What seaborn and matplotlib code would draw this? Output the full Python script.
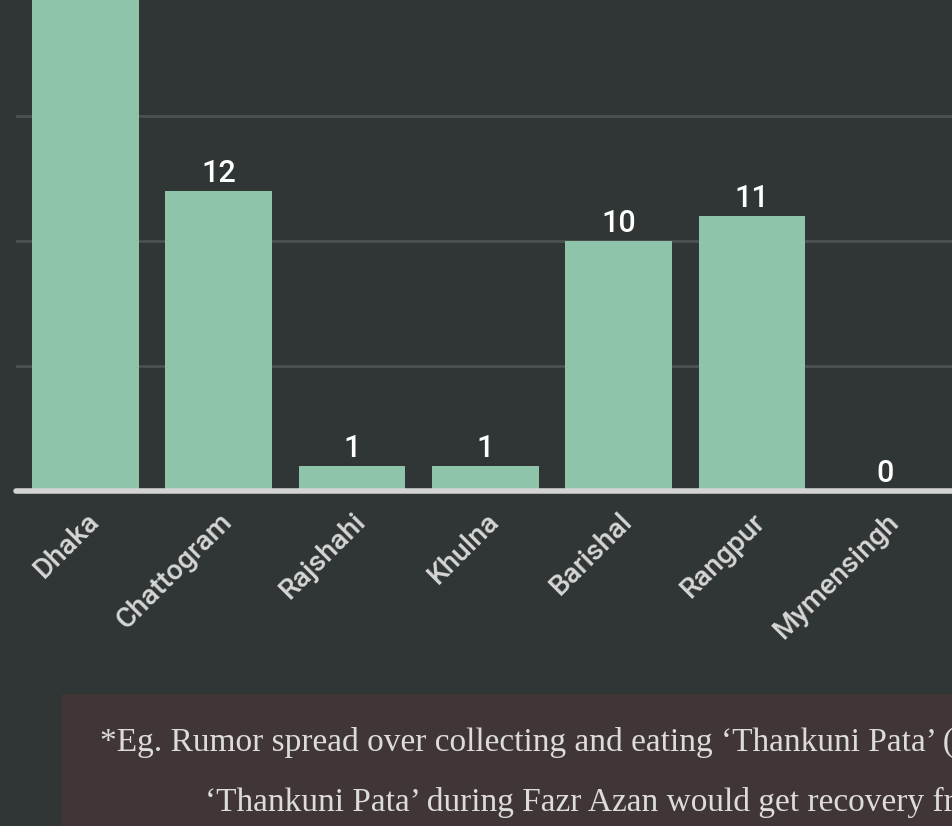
import matplotlib
matplotlib.use("Agg")
import matplotlib.pyplot as plt
import seaborn as sns
import pandas as pd
from matplotlib.patches import Rectangle

divisions = ["Dhaka", "Chattogram", "Rajshahi", "Khulna", "Barishal", "Rangpur", "Mymensingh"]
counts = [22, 12, 1, 1, 10, 11, 0]
note_line1 = "*Eg. Rumor spread over collecting and eating \u2018Thankuni Pata\u2019 (a"
note_line2 = "\u2018Thankuni Pata\u2019 during Fazr Azan would get recovery from"

BG = "#303536"
BAR = "#8ec4a9"
GRID = "#4b5051"

sns.set_theme(style="dark")
plt.rcParams['font.family'] = ['Roboto', 'DejaVu Sans']

W, H = 952, 826
fig = plt.figure(figsize=(W / 100, H / 100), dpi=100)
fig.patch.set_facecolor(BG)

base_px = 491
ax = fig.add_axes([16 / W, (H - base_px) / H, (W - 16) / W, base_px / H])
ax.set_facecolor(BG)

df = pd.DataFrame({"division": divisions, "count": counts})
sns.barplot(data=df, x="division", y="count", color=BAR, saturation=1, width=0.8,
            linewidth=0, edgecolor="none", ax=ax, zorder=2)

ymax = base_px / 25
ax.set_xlim(-0.52, 6.5)
ax.set_ylim(0, ymax)
ax.set_yticks([5, 10, 15])
ax.yaxis.grid(True, color=GRID, linewidth=2, zorder=0)
ax.xaxis.grid(False)
ax.tick_params(axis="y", left=False, labelleft=False)
ax.tick_params(axis="x", bottom=False, pad=6)
for s in ax.spines.values():
    s.set_visible(False)
ax.axhline(0, color="#d4d4d4", linewidth=4, zorder=3, clip_on=False)
ax.set_xlabel("")
ax.set_ylabel("")

for lbl in ax.get_xticklabels():
    lbl.set_rotation(45)
    lbl.set_ha("right")
    lbl.set_rotation_mode("anchor")
    lbl.set_color("#d6d6d6")
    lbl.set_fontsize(20.5)
    lbl.set_fontweight("medium")

# value labels (the Dhaka label lies above the visible crop, as in the reference)
for i, v in enumerate(counts):
    if v >= ymax - 1:
        continue
    ax.annotate(str(v), (i, v), xytext=(0, 2), textcoords="offset points",
                ha="center", va="bottom", color="white", fontsize=22,
                fontweight="medium", annotation_clip=False)

# note box
fig.patches.append(Rectangle((62 / W, 0), 1, (H - 694) / H, transform=fig.transFigure,
                             facecolor="#403635", edgecolor="none", zorder=0))
serif = ["Liberation Serif", "DejaVu Serif"]
fig.text(100 / W, (H - 751) / H, note_line1, color="#dcdcdc", fontsize=24,
         family=serif, ha="left", va="baseline")
fig.text(205 / W, (H - 811) / H, note_line2, color="#dcdcdc", fontsize=24,
         family=serif, ha="left", va="baseline")

fig.savefig("out.png", dpi=100, facecolor=BG)
